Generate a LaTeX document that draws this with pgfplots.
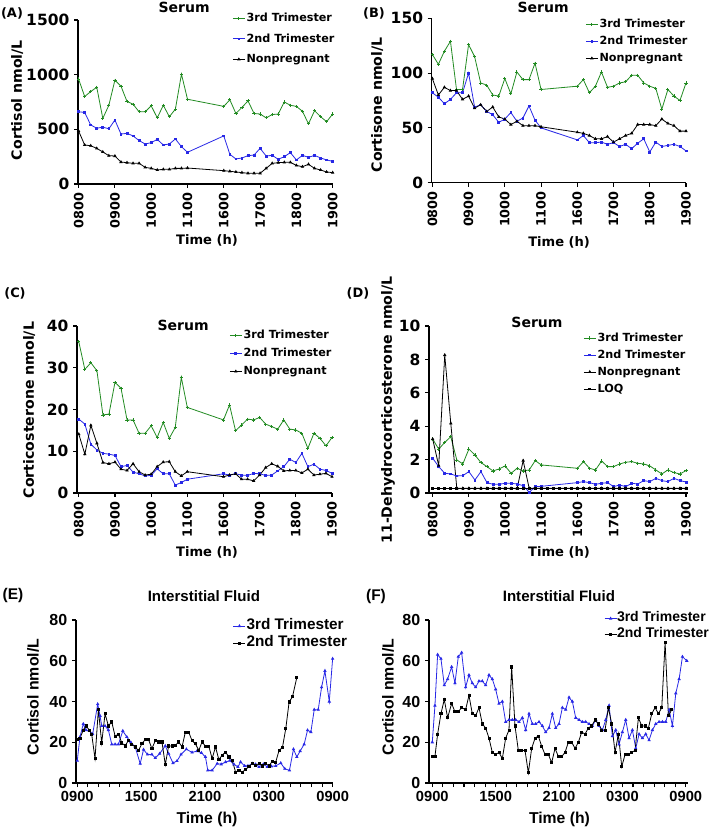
\documentclass[border=0pt]{standalone}
\usepackage{fontspec}
\setmainfont{DejaVu Sans}
\newfontfamily\dv{DejaVu Sans}
\newfontfamily\ar{Liberation Sans}
\usepackage{pgfplots}
\pgfplotsset{compat=1.18}
\usepackage{pgfplotstable}
\definecolor{cg}{RGB}{34,139,34}
\definecolor{cb}{RGB}{40,40,230}
\newcommand{\fs}[1]{\fontsize{#1}{#1}\selectfont}

\pgfplotstableread{
t g b k
0 960 660 485
1 800 655 357
2 845 540 350
3 885 510 326
4 600 520 293
5 720 505 259
6 950 585 256
7 895 457 201
8 755 463 195
9 730 440 189
10 660 397 189
11 660 366 152
12 715 378 143
13 605 408 128
14 720 357 134
15 615 366 134
16 685 412 143
17 1005 341 143
18 775 290 146
24 710 440 122
25 770 271 116
26 645 229 110
27 700 238 104
28 760 259 98
29 645 265 98
30 640 326 98
31 605 256 143
32 635 262 189
33 640 226 195
34 750 250 198
35 720 287 198
36 710 220 170
37 665 262 158
38 550 244 180
39 670 262 143
40 615 238 128
41 570 220 110
42 640 207 104
}\tA

\pgfplotstableread{
t g b k
0 117 82 95
1 108 78 80
2 120 72 87
3 129 76 84
4 85 82 84
5 85 82 76
6 126 100 79
7 115 69 68
8 91 71 71
9 89 65 65
10 80 62 69
11 79 55 60
12 95 58 58
13 81 64 53
14 101 56 56
15 94 59 52
16 94 70 52
17 109 57 52
18 85 50 51
24 88 39 46
25 94 43 45
26 82 36.5 43
27 88 36.5 40
28 101 37 40
29 87 35 42
30 88 36.5 37
31 91 33 40
32 92 35 43
33 98 31 45
34 98 36 53
35 91 40 53
36 88 28 53
37 86 37 52
38 67 33 58
39 85 34 54
40 79 35 52
41 75 33 47
42 91 29 47
}\tB

\pgfplotstableread{
t g b k
0 36.2 17.7 14.1
1 29.6 16.5 9.3
2 31.2 11.7 16.2
3 29.3 10.3 11.9
4 18.7 9.5 7.3
5 18.9 9.3 7.0
6 26.5 9.0 7.4
7 25.1 6.3 5.7
8 17.5 6.6 5.4
9 17.5 5.0 7.0
10 14.3 4.6 5.1
11 14.3 4.1 4.3
12 16.1 4.2 4.5
13 13.3 5.8 6.3
14 16.9 4.6 7.4
15 13.1 4.6 7.5
16 15.7 1.9 5.1
17 27.7 2.5 4.1
18 20.5 3.3 5.1
24 17.5 4.6 3.9
25 21.1 4.3 4.3
26 14.9 4.6 4.6
27 16.3 4.3 3.3
28 17.7 4.2 3.3
29 17.5 4.7 2.9
30 18.1 4.6 4.3
31 16.5 4.2 6.1
32 15.9 4.3 7.0
33 15.3 5.3 6.4
34 17.5 6.3 5.3
35 15.3 8.1 5.4
36 15.1 7.3 5.4
37 14.3 9.5 4.8
38 10.7 6.3 5.7
39 14.3 6.9 4.3
40 13.1 5.7 4.5
41 11.3 5.4 4.7
42 13.3 4.7 3.9
}\tC

\pgfplotstableread{
t g b k
0 3.23 2.08 3.23
1 2.63 1.58 1.64
2 3.03 1.18 8.26
3 3.37 1.14 4.17
4 1.98 1.02 0.28
5 1.74 1.04 0.28
6 2.63 1.28 0.28
7 2.28 0.78 0.28
8 1.82 1.28 0.28
9 1.58 0.62 0.28
10 1.32 0.52 0.28
11 1.44 0.52 0.28
12 1.62 0.58 0.28
13 1.18 0.58 0.28
14 1.48 0.54 0.28
15 1.32 0.44 1.94
16 1.38 0.04 0.28
17 1.94 0.38 0.28
18 1.68 0.40 0.28
24 1.48 0.62 0.28
25 1.88 0.68 0.28
26 1.48 0.62 0.28
27 1.38 0.52 0.28
28 1.92 0.58 0.28
29 1.58 0.62 0.28
30 1.58 0.38 0.28
31 1.74 0.48 0.28
32 1.84 0.38 0.28
33 1.88 0.58 0.28
34 1.78 0.54 0.28
35 1.74 0.74 0.28
36 1.62 0.68 0.28
37 1.38 0.88 0.28
38 1.14 0.74 0.28
39 1.38 0.68 0.28
40 1.22 0.88 0.28
41 1.14 0.74 0.28
42 1.34 0.66 0.28
}\tD

\pgfplotstableread{
p v
232 11
240 22.6
250 29
258 26
268 25.6
278 24
293 38.7
300 33
305 28
315 28
325 26
335 19
345 19
355 19
368 25.6
380 22.6
392 20
405 17.7
420 9.5
430 16.4
442 14
455 14
465 12.3
478 14.4
495 18.2
505 14.4
518 9.8
530 10.8
542 14
558 16.6
575 15
590 15.7
603 14.8
615 12.8
622 6.2
635 6.2
650 9.5
662 9.2
675 10.3
688 11
700 9.2
712 7.9
720 10.3
732 8.4
742 8.4
755 9.5
765 9.2
775 7.9
788 9.2
800 7.9
812 8.2
825 8.4
840 9.8
852 7
866 6.2
878 16.6
888 12.8
898 15.7
910 19
920 25.9
930 25
940 36
952 36
962 47
972 55
985 40
995 61
}\tEb

\pgfplotstableread{
p v
232 21.3
240 22
250 26
258 28
268 26
275 24
285 12
295 36
305 19.7
315 34
325 28
335 30
345 23
355 24
365 19.7
375 18.2
385 21
395 19
405 17.7
415 16
425 19.3
435 21.3
445 21.3
455 16.9
465 20.7
475 20.2
485 20.2
495 9
505 18.2
515 18.2
525 18.5
535 20.2
545 17.7
555 25
565 25
575 20.7
585 19.3
595 16
605 20.2
615 18
625 18
635 12
645 17.7
655 11.5
665 13.6
675 15.2
685 12.8
695 11.1
705 5.4
715 6.2
725 5.4
735 6.6
745 8.2
755 9.5
765 8.7
775 9.5
785 8.4
795 9.5
805 8.4
815 10.8
825 10.3
835 16
845 17.4
855 26.7
865 39.8
875 42.3
888 51.8
}\tEk

\pgfplotstableread{
p v
232 20
240 38
248 63
258 61
268 48
278 51
290 57
300 49
310 62
320 64
332 47
342 53
352 49
362 47
372 50
382 50
392 48
402 53
412 51
422 46
432 39
442 40
452 30
462 31
472 31
482 31
492 30
502 32
512 26
522 34
532 29
542 29
552 30
562 28
572 25
582 27
592 34
602 27
612 29
622 37
632 36
642 42
652 40
662 32
672 31
682 30
692 30
702 29
712 28
722 31
732 28
742 26
752 31
762 38
772 23
782 26
792 19
802 25
812 31
822 22
832 26
842 17
852 24
862 22
872 24
882 21
892 26
902 29
912 30
922 30
932 30
942 36
952 28
962 44
972 51
982 62
995 60
}\tFb

\pgfplotstableread{
p v
232 13
240 13
248 24
258 34
268 41
278 32
290 39
300 35
310 35
320 37
332 36
342 43
352 34
362 33
372 37
382 29
392 27
402 22
412 15
422 14
432 15
442 12
452 22
462 26
470 57
480 28
490 16
500 16
510 16
520 5
530 17
540 22
550 23
560 18
570 14
580 14
590 10
600 17
610 13
620 13
630 15
640 20
650 20
660 17
670 20
680 25
690 24
700 27
710 28
720 31
730 29
740 26
750 26
760 37
770 29
780 15
790 24
800 8
810 14
820 14
830 15
840 16
850 32
860 28
870 28
880 27
890 34
900 37
910 34
920 37
930 69
940 33
950 36
}\tFk

\pgfplotsset{
  base/.style={
    scale only axis, clip=false,
    axis x line*=bottom, axis y line*=left,
    axis line style={line width=0.8pt, black},
    every tick/.style={line width=0.8pt, black},
    tick align=outside, major tick length=3pt, minor tick length=3pt,
    /pgf/number format/assume math mode=true,
    /pgf/number format/1000 sep={},
    every axis title shift=0pt,
    legend cell align=left,
    legend image code/.code={\draw[mark repeat=2,mark phase=2,##1] plot coordinates {(0pt,0pt) (4.5pt,0pt) (9pt,0pt)};},
  },
  serum/.style={base,
    xtick={0,6,...,42},
    xticklabels={0800,0900,1000,1100,1600,1700,1800,1900},
    xticklabel style={rotate=90, anchor=east, font=\dv\bfseries\fs{9.6}},
    yticklabel style={font=\dv\bfseries\fs{11.6}},
    title style={font=\dv\bfseries\fs{10.5}, anchor=center, yshift=0pt},
    xlabel style={font=\dv\bfseries\fs{9.8}, anchor=center},
    ylabel style={font=\dv\bfseries\fs{10.6}, anchor=center},
    legend style={draw=none, fill=none, anchor=north east, inner sep=0pt,
      font=\dv\bfseries\fs{8.4},
      nodes={text height=0.75em, text depth=0.25em, inner sep=1pt}},
    xlabel={Time (h)}, title={Serum},
  },
  isf/.style={base,
    xtick={0,6,12,18,24}, minor xtick={1,...,23},
    xticklabels={0900,1500,2100,0300,0900},
    xticklabel style={font=\ar\bfseries\fs{11}},
    yticklabel style={font=\ar\bfseries\fs{12}},
    title style={font=\ar\bfseries\fs{11.3}, anchor=center, yshift=0pt},
    xlabel style={font=\ar\bfseries\fs{11.8}, anchor=center},
    ylabel style={font=\ar\bfseries\fs{11.9}, anchor=center},
    legend style={draw=none, fill=none, anchor=north east, inner sep=0pt,
      font=\ar\bfseries\fs{11.5}},
    xlabel={Time (h)}, title={Interstitial Fluid}, ylabel={Cortisol nmol/L},
    ymin=0, ymax=80, ytick={0,20,...,80},
  },
  g3/.style={cg, line width=0.6pt, mark=+, mark size=1.2pt},
  b2/.style={cb, line width=0.6pt, mark=square*, mark size=0.7pt},
  kn/.style={black, line width=0.6pt, mark=triangle*, mark size=0.9pt},
  bt/.style={cb, line width=0.6pt, mark=triangle*, mark size=0.9pt},
  ks/.style={black, line width=0.6pt, mark=square*, mark size=0.8pt},
}

\begin{document}
\begin{tikzpicture}

% (A)
\begin{axis}[serum, anchor=south west, at={(58.5pt,483pt)},
  width=191.25pt, height=123pt,
  xmin=-0.1, xmax=42.05, ymin=0, ymax=1500, ytick={0,500,1000,1500},
  ylabel={Cortisol nmol/L},
  title style={at={(axis description cs:0.416,1.079)}},
  ylabel style={at={(axis description cs:-0.239,0.512)}},
  xlabel style={at={(axis description cs:0.506,-0.341)}},
  legend style={at={(axis description cs:1.012,1.060)}, row sep=3.35pt}]
\addplot[g3] table[x=t,y=g]{\tA};
\addplot[b2] table[x=t,y=b]{\tA};
\addplot[kn] table[x=t,y=k]{\tA};
\legend{3rd Trimester,2nd Trimester,Nonpregnant}
\end{axis}

% (B)
\begin{axis}[serum, anchor=south west, at={(323.8pt,484pt)},
  width=190.7pt, height=123.3pt,
  xmin=-0.1, xmax=42, ymin=0, ymax=150, ytick={0,50,100,150},
  ylabel={Cortisone nmol/L},
  title style={at={(axis description cs:0.438,1.069)}},
  ylabel style={at={(axis description cs:-0.215,0.473)}},
  xlabel style={at={(axis description cs:0.501,-0.361)}},
  legend style={at={(axis description cs:1.012,1.013)}, row sep=0.75pt}]
\addplot[g3] table[x=t,y=g]{\tB};
\addplot[b2] table[x=t,y=b]{\tB};
\addplot[kn] table[x=t,y=k]{\tB};
\legend{3rd Trimester,2nd Trimester,Nonpregnant}
\end{axis}

% (C)
\begin{axis}[serum, anchor=south west, at={(57.75pt,251.25pt)},
  width=191.25pt, height=125.25pt,
  xmin=-0.3, xmax=42, ymin=0, ymax=40, ytick={0,10,...,40},
  ylabel={Corticosterone nmol/L},
  title style={at={(axis description cs:0.416,1.006)}},
  ylabel style={at={(axis description cs:-0.188,0.497)}},
  xlabel style={at={(axis description cs:0.51,-0.353)}},
  legend style={at={(axis description cs:1.004,0.993)}, row sep=1.5pt}]
\addplot[g3] table[x=t,y=g]{\tC};
\addplot[b2] table[x=t,y=b]{\tC};
\addplot[kn] table[x=t,y=k]{\tC};
\legend{3rd Trimester,2nd Trimester,Nonpregnant}
\end{axis}

% (D)
\begin{axis}[serum, anchor=south west, at={(321.75pt,251.25pt)},
  width=194.25pt, height=125.25pt,
  xmin=-0.61, xmax=42.33, ymin=0, ymax=10, ytick={0,2,...,10},
  ylabel={11-Dehydrocorticosterone nmol/L},
  title style={at={(axis description cs:0.417,1.024)}},
  ylabel style={at={(axis description cs:-0.158,0.497)}},
  xlabel style={at={(axis description cs:0.502,-0.353)}},
  legend style={at={(axis description cs:0.996,0.978)}, row sep=0.75pt}]
\addplot[g3] table[x=t,y=g]{\tD};
\addplot[b2] table[x=t,y=b]{\tD};
\addplot[kn] table[x=t,y=k]{\tD};
\addplot[black, line width=0.6pt, mark=square*, mark size=0.7pt] coordinates {
(0,0.28)(1,0.28)(2,0.28)(3,0.28)(4,0.28)(5,0.28)(6,0.28)(7,0.28)(8,0.28)(9,0.28)
(10,0.28)(11,0.28)(12,0.28)(13,0.28)(14,0.28)(15,0.28)(16,0.28)(17,0.28)(18,0.28)(19,0.28)
(20,0.28)(21,0.28)(22,0.28)(23,0.28)(24,0.28)(25,0.28)(26,0.28)(27,0.28)(28,0.28)(29,0.28)
(30,0.28)(31,0.28)(32,0.28)(33,0.28)(34,0.28)(35,0.28)(36,0.28)(37,0.28)(38,0.28)(39,0.28)
(40,0.28)(41,0.28)(42,0.28)};
\legend{3rd Trimester,2nd Trimester,Nonpregnant,LOQ}
\end{axis}

% (E)
\begin{axis}[isf, anchor=south west, at={(57pt,33.75pt)},
  width=193pt, height=122.25pt,
  xmin=-0.12, xmax=24.06,
  title style={at={(axis description cs:0.497,1.147)}},
  ylabel style={at={(axis description cs:-0.167,0.528)}},
  xlabel style={at={(axis description cs:0.509,-0.221)}},
  legend style={at={(axis description cs:1.057,1.006)}, row sep=2.8pt,
    nodes={text height=0.72em, text depth=0.2em, inner sep=0.5pt}}]
\addplot[bt] table[x expr=(\thisrow{p}-232)/31.8, y=v]{\tEb};
\addplot[ks] table[x expr=(\thisrow{p}-232)/31.8, y=v]{\tEk};
\legend{3rd Trimester,2nd Trimester}
\end{axis}

% (F)
\begin{axis}[isf, anchor=south west, at={(321.75pt,33.75pt)},
  width=194.5pt, height=122.25pt,
  xmin=-0.31, xmax=24.24,
  title style={at={(axis description cs:0.501,1.147)}},
  ylabel style={at={(axis description cs:-0.158,0.528)}},
  xlabel style={at={(axis description cs:0.503,-0.221)}},
  legend style={at={(axis description cs:1.08,1.031)}, row sep=6.75pt,
    font=\ar\bfseries\fs{10.5},
    nodes={text height=0.5em, text depth=0pt, inner sep=0pt}}]
\addplot[bt] table[x expr=(\thisrow{p}-232)/31.67, y=v]{\tFb};
\addplot[ks] table[x expr=(\thisrow{p}-232)/31.67, y=v]{\tFk};
\legend{3rd Trimester,2nd Trimester}
\end{axis}

\node[font=\dv\bfseries\fs{9.7}] at (9pt,611.25pt) {(A)};
\node[font=\dv\bfseries\fs{9.7}] at (280.5pt,611.25pt) {(B)};
\node[font=\dv\bfseries\fs{9.7}] at (11.25pt,401.25pt) {(C)};
\node[font=\dv\bfseries\fs{9.7}] at (268.5pt,401.25pt) {(D)};
\node[font=\ar\bfseries\fs{11.6}] at (9.75pt,174pt) {(E)};
\node[font=\ar\bfseries\fs{11.6}] at (282pt,173.25pt) {(F)};

\pgfresetboundingbox
\path (0pt,0pt) rectangle (531.75pt,621pt);
\end{tikzpicture}
\end{document}
